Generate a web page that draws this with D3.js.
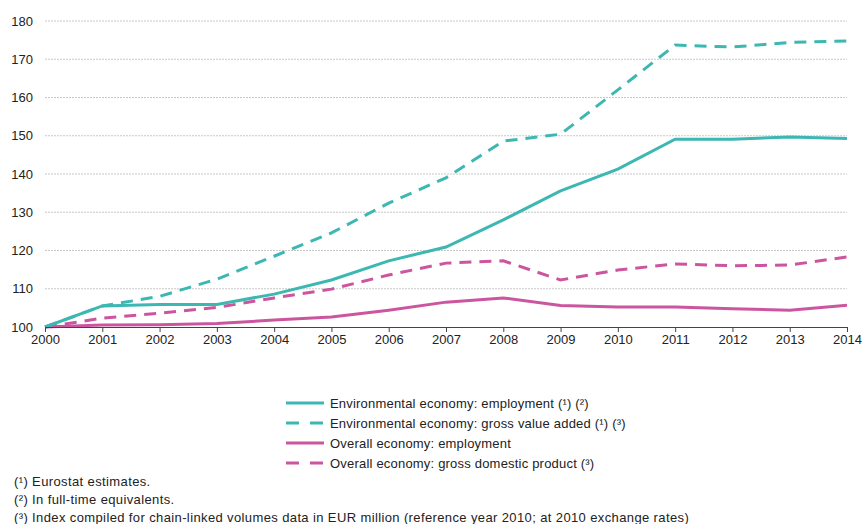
<!DOCTYPE html>
<html>
<head>
<meta charset="utf-8">
<script src="https://cdn.jsdelivr.net/npm/d3@7"></script>
<style>
	body { margin: 0; background: #fff; }
	text { font-family: "Liberation Sans", Arial, sans-serif; fill: #222; }
</style>
</head>
<body>
<div id="chart"></div>
<script>
var years = [2000, 2001, 2002, 2003, 2004, 2005, 2006, 2007, 2008, 2009, 2010, 2011, 2012, 2013, 2014];
var envEmployment = [100, 105.5, 105.9, 105.9, 108.6, 112.3, 117.3, 120.9, 128.0, 135.6, 141.3, 149.1, 149.1, 149.7, 149.3];
var envGva = [100, 105.5, 108.0, 112.5, 118.5, 124.6, 132.4, 139.0, 148.6, 150.4, 162.0, 173.7, 173.2, 174.4, 174.8];
var allEmployment = [100, 100.5, 100.6, 100.9, 101.8, 102.6, 104.4, 106.5, 107.6, 105.6, 105.2, 105.2, 104.8, 104.4, 105.7];
var allGdp = [100, 102.3, 103.6, 105.1, 107.6, 109.9, 113.6, 116.7, 117.3, 112.3, 114.9, 116.5, 116.0, 116.2, 118.3];
var yTicks = [100, 110, 120, 130, 140, 150, 160, 170, 180];
var seriesNames = [
	"Environmental economy: employment (\u00B9) (\u00B2)",
	"Environmental economy: gross value added (\u00B9) (\u00B3)",
	"Overall economy: employment",
	"Overall economy: gross domestic product (\u00B3)"
];
var footnotes = [
	"(\u00B9) Eurostat estimates.",
	"(\u00B2) In full-time equivalents.",
	"(\u00B3) Index compiled for chain-linked volumes data in EUR million (reference year 2010; at 2010 exchange rates)"
];

var teal = "#3db7b1", pink = "#cc559f";
var series = [
	{name: seriesNames[0], values: envEmployment, color: teal, dash: null},
	{name: seriesNames[1], values: envGva, color: teal, dash: "12,8"},
	{name: seriesNames[2], values: allEmployment, color: pink, dash: null},
	{name: seriesNames[3], values: allGdp, color: pink, dash: "12,8"}
];

var width = 862, height = 524;
var margin = {left: 45, right: 15, top: 21, bottom: 197};

var svg = d3.select("#chart").append("svg")
	.attr("width", width)
	.attr("height", height);

var x = d3.scaleLinear()
	.domain([2000, 2014])
	.range([margin.left, width - margin.right]);

var y = d3.scaleLinear()
	.domain([100, 180])
	.range([height - margin.bottom, margin.top]);

// grid
svg.append("g")
	.selectAll("line")
	.data(yTicks.slice(1))
	.enter().append("line")
		.attr("x1", x(2000))
		.attr("x2", x(2014))
		.attr("y1", function(d) { return y(d); })
		.attr("y2", function(d) { return y(d); })
		.attr("stroke", "#c8c8c8")
		.attr("stroke-width", 1)
		.attr("stroke-dasharray", "2,1");

var yAxis = d3.axisLeft(y)
	.tickValues(yTicks)
	.tickSize(0)
	.tickPadding(12);

svg.append("g")
	.attr("transform", "translate(" + margin.left + ",0)")
	.call(yAxis)
	.call(function(g) { g.select(".domain").remove(); })
	.selectAll("text")
		.style("font-size", "13px")
		.attr("fill", "#222");

var line = d3.line()
	.x(function(d, i) { return x(years[i]); })
	.y(function(d) { return y(d); });

// draw bottom lines first so the teal ones sit above
svg.append("g")
	.selectAll("path")
	.data(series.slice().reverse())
	.enter().append("path")
		.attr("d", function(d) { return line(d.values); })
		.attr("fill", "none")
		.attr("stroke", function(d) { return d.color; })
		.attr("stroke-width", 3)
		.attr("stroke-dasharray", function(d) { return d.dash; });

var xAxis = d3.axisBottom(x)
	.tickValues(years)
	.tickFormat(d3.format("d"))
	.tickSize(5)
	.tickSizeOuter(0)
	.tickPadding(3);

svg.append("g")
	.attr("transform", "translate(0," + y(100) + ")")
	.call(xAxis)
	.call(function(g) {
		g.select(".domain").attr("stroke", "#444");
		g.selectAll(".tick line").attr("stroke", "#444");
	})
	.selectAll("text")
		.style("font-size", "13px")
		.attr("fill", "#222");

// legend
var legend = svg.append("g")
	.attr("transform", "translate(286,403)");

var item = legend.selectAll("g")
	.data(series)
	.enter().append("g")
		.attr("transform", function(d, i) { return "translate(0," + (i * 20) + ")"; });

item.append("line")
	.attr("x1", 0)
	.attr("x2", 38)
	.attr("stroke", function(d) { return d.color; })
	.attr("stroke-width", 3)
	.attr("stroke-dasharray", function(d) { return d.dash ? "13,11" : null; });

item.append("text")
	.attr("x", 44)
	.attr("dy", "0.35em")
	.style("font-size", "13px")
	.style("letter-spacing", "0.2px")
	.text(function(d) { return d.name; });

// footnotes
svg.append("g")
	.selectAll("text")
	.data(footnotes)
	.enter().append("text")
		.attr("x", 14)
		.attr("y", function(d, i) { return 486 + i * 18; })
		.style("font-size", "13px")
		.style("letter-spacing", "0.38px")
		.text(function(d) { return d; });
</script>
</body>
</html>
